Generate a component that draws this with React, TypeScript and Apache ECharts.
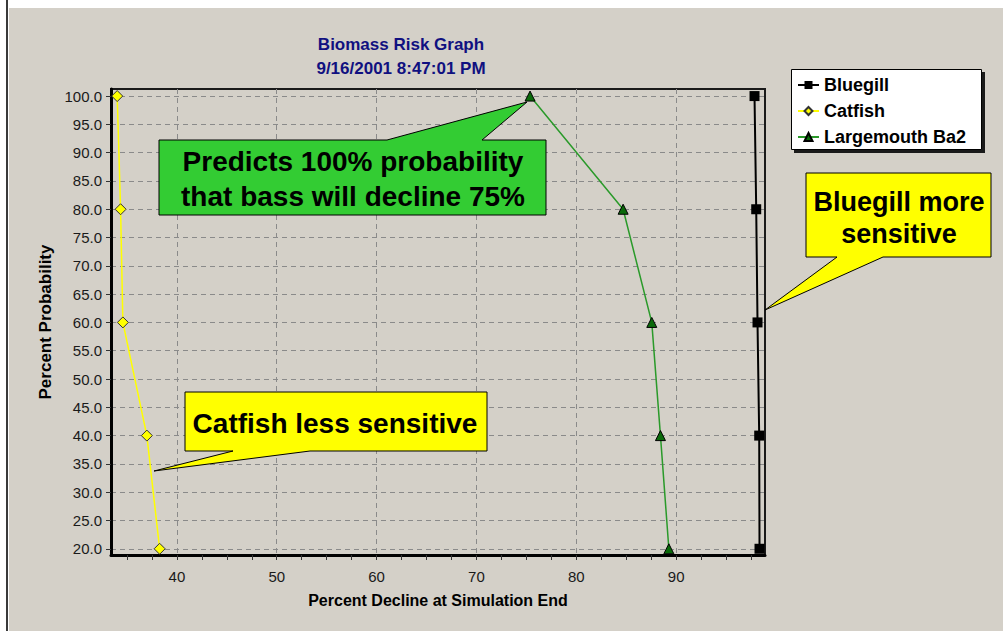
import React, { useEffect, useRef } from "react";
import * as echarts from "echarts";

// ---- data ----
const probabilityLevels = [100, 80, 60, 40, 20];
const bluegillDecline = [97.85, 98.02, 98.15, 98.32, 98.35];
const catfishDecline = [34.02, 34.36, 34.59, 36.99, 38.27];
const largemouthDecline = [75.37, 84.69, 87.56, 88.43, 89.27];

const seriesNames = ["Bluegill", "Catfish", "Largemouth Ba2"];
const xTickLabels = [40, 50, 60, 70, 80, 90];
const xMinorTicks = [35, 37.5, 40, 42.5, 45, 47.5, 50, 52.5, 55, 57.5, 60, 62.5, 65, 67.5, 70, 72.5, 75, 77.5, 80, 82.5, 85, 87.5, 90, 92.5, 95, 97.5];
const yTickLabels = [20, 25, 30, 35, 40, 45, 50, 55, 60, 65, 70, 75, 80, 85, 90, 95, 100];

const titleLines = ["Biomass Risk Graph", "9/16/2001 8:47:01 PM"];
const xAxisName = "Percent Decline at Simulation End";
const yAxisName = "Percent Probability";
const calloutBass = "Predicts 100% probability\nthat bass will decline 75%";
const calloutCatfish = "Catfish less sensitive";
const calloutBluegill = "Bluegill more\nsensitive";

const SANS = '"Liberation Sans", Arial, sans-serif';

function pairs(xs: number[], ys: number[]) {
  return xs.map((x, i) => [x, ys[i]]);
}

export default function App() {
  const ref = useRef<HTMLDivElement>(null);
  useEffect(() => {
    if (!ref.current) return;
    const chart = echarts.init(ref.current, null, { renderer: "svg" });
    const gridLine = { show: true, lineStyle: { color: "#8a8a8a", type: [5, 4] as any, width: 1 } };
    const option: any = {
      animation: false,
      backgroundColor: "#ffffff",
      title: {
        text: titleLines.join("\n"),
        left: 401,
        top: 32,
        padding: 0,
        textAlign: "center",
        textStyle: { color: "#101080", fontFamily: SANS, fontWeight: "bold", fontSize: 17, lineHeight: 24 },
      },
      legend: {
        orient: "vertical",
        left: 797,
        top: 75,
        padding: 0,
        itemGap: 6,
        itemWidth: 21,
        itemHeight: 10,
        data: seriesNames,
        textStyle: { color: "#000", fontFamily: SANS, fontWeight: "bold", fontSize: 18, lineHeight: 20 },
      },
      grid: { left: 111, right: 238, top: 89, bottom: 76, show: true, borderColor: "#1a1a1a", borderWidth: 2 },
      xAxis: [
        {
          type: "value",
          min: 33.4,
          max: 98.9,
          position: "bottom",
          name: xAxisName,
          nameLocation: "middle",
          nameGap: 37,
          nameTextStyle: { color: "#000", fontFamily: SANS, fontWeight: "bold", fontSize: 16 },
          axisLine: { show: true, onZero: false, lineStyle: { color: "#000", width: 3 } },
          axisTick: { show: true, customValues: xMinorTicks, length: 5, lineStyle: { color: "#333", width: 1 } },
          axisLabel: { customValues: xTickLabels, color: "#1a1a1a", fontFamily: SANS, fontSize: 15, margin: 14 },
          splitLine: { show: false },
        },
        {
          type: "value",
          min: 33.4,
          max: 98.9,
          position: "top",
          axisLine: { show: false },
          axisLabel: { show: false },
          axisTick: { show: false, customValues: xTickLabels },
          splitLine: gridLine,
        },
      ],
      yAxis: {
        type: "value",
        min: 18.9,
        max: 101.25,
        name: yAxisName,
        nameLocation: "middle",
        nameGap: 54,
        nameRotate: 90,
        nameTextStyle: { color: "#000", fontFamily: SANS, fontWeight: "bold", fontSize: 17 },
        axisLine: { show: true, onZero: false, lineStyle: { color: "#000", width: 3 } },
        axisTick: { show: true, customValues: yTickLabels, length: 5, lineStyle: { color: "#333", width: 1 } },
        axisLabel: {
          customValues: yTickLabels,
          color: "#1a1a1a",
          fontFamily: SANS,
          fontSize: 15,
          margin: 9,
          formatter: (v: number) => v.toFixed(1),
        },
        splitLine: gridLine,
      },
      series: [
        {
          name: seriesNames[0],
          type: "line",
          data: pairs(bluegillDecline, probabilityLevels),
          symbol: "rect",
          symbolSize: 10,
          clip: false,
          lineStyle: { color: "#000", width: 2 },
          itemStyle: { color: "#000", borderColor: "#000", borderWidth: 0 },
          z: 3,
        },
        {
          name: seriesNames[1],
          type: "line",
          data: pairs(catfishDecline, probabilityLevels),
          symbol: "diamond",
          symbolSize: 11,
          clip: false,
          lineStyle: { color: "#ffff00", width: 1.5 },
          itemStyle: { color: "#ffff00", borderColor: "#333", borderWidth: 1 },
          z: 3,
        },
        {
          name: seriesNames[2],
          type: "line",
          data: pairs(largemouthDecline, probabilityLevels),
          symbol: "triangle",
          symbolSize: 10,
          clip: false,
          lineStyle: { color: "#2a9a2a", width: 1.5 },
          itemStyle: { color: "#0a6a0a", borderColor: "#000", borderWidth: 1 },
          z: 3,
        },
      ],
      graphic: [
        { type: "rect", z: -10, silent: true, shape: { x: 9, y: 8, width: 994, height: 623 }, style: { fill: "#d4d0c8" } },
        { type: "line", z: -9, silent: true, shape: { x1: 7, y1: 0, x2: 7, y2: 631 }, style: { stroke: "#3a3a3a", lineWidth: 2 } },
        // legend box + shadow
        { type: "rect", z: 1, silent: true, shape: { x: 794, y: 72, width: 191, height: 81 }, style: { fill: "#1a1a1a" } },
        { type: "rect", z: 2, silent: true, shape: { x: 791.5, y: 69.5, width: 190, height: 80 }, style: { fill: "#ffffff", stroke: "#000", lineWidth: 1 } },
        // callouts
        {
          type: "polygon",
          z: 20,
          silent: true,
          shape: { points: [[159, 140], [387, 140], [527, 102], [482, 140], [546, 140], [546, 215], [159, 215]] },
          style: { fill: "#33cc33", stroke: "#000", lineWidth: 1 },
        },
        {
          type: "text",
          z: 21,
          silent: true,
          style: { text: calloutBass, x: 353, y: 179, align: "center", verticalAlign: "middle", fontFamily: SANS, fontWeight: "bold", fontSize: 28, lineHeight: 35, fill: "#000" },
        },
        {
          type: "polygon",
          z: 20,
          silent: true,
          shape: { points: [[185, 392], [487, 392], [487, 451], [310, 451], [154, 471], [233, 451], [185, 451]] },
          style: { fill: "#ffff00", stroke: "#000", lineWidth: 1 },
        },
        {
          type: "text",
          z: 21,
          silent: true,
          style: { text: calloutCatfish, x: 335, y: 423, align: "center", verticalAlign: "middle", fontFamily: SANS, fontWeight: "bold", fontSize: 28, fill: "#000" },
        },
        {
          type: "polygon",
          z: 20,
          silent: true,
          shape: { points: [[806, 173], [991, 173], [991, 257], [883, 257], [765, 310], [837, 257], [806, 257]] },
          style: { fill: "#ffff00", stroke: "#000", lineWidth: 1 },
        },
        {
          type: "text",
          z: 21,
          silent: true,
          style: { text: calloutBluegill, x: 899, y: 218, align: "center", verticalAlign: "middle", fontFamily: SANS, fontWeight: "bold", fontSize: 27, lineHeight: 32, fill: "#000" },
        },
      ],
    };
    chart.setOption(option);
    return () => chart.dispose();
  }, []);
  return <div ref={ref} style={{ position: "absolute", left: 0, top: 0, width: 1003, height: 631 }} />;
}
